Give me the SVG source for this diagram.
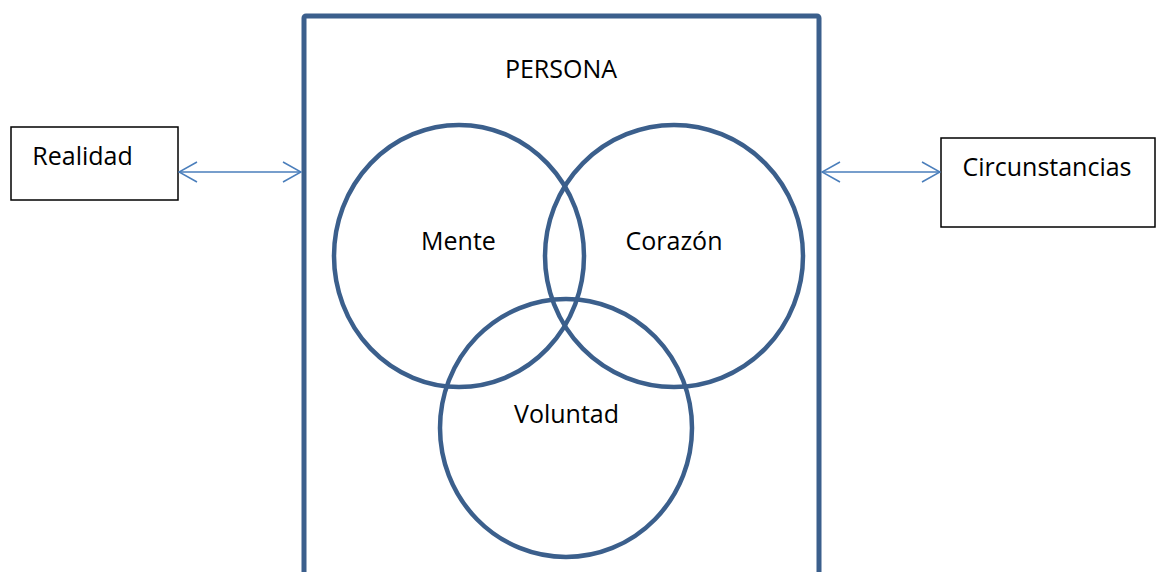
<svg xmlns="http://www.w3.org/2000/svg" width="1157" height="572" viewBox="0 0 1157 572">
  <defs>
    <style>
      .lbl { font-family: "Open Sans", "Liberation Sans", sans-serif; font-size: 25px; fill: #000; text-anchor: middle; }
      .ring { fill: none; stroke: #3b5f8c; stroke-width: 4.5; }
      .side { fill: #fff; stroke: #000; stroke-width: 1.5; }
      .conn { fill: none; stroke: #4a7ebb; stroke-width: 1.5; }
    </style>
    <marker id="chev" viewBox="0 0 20 24" refX="19" refY="12" markerWidth="20" markerHeight="24" markerUnits="userSpaceOnUse" orient="auto-start-reverse">
      <path d="M1,2 L19,12 L1,22" fill="none" stroke="#4a7ebb" stroke-width="1.5"/>
    </marker>
  </defs>
  <rect width="1157" height="572" fill="#fff"/>

  <g id="persona">
    <rect x="304" y="16" width="515" height="620" rx="2" fill="none" stroke="#3b5f8c" stroke-width="5"/>
    <text class="lbl" x="561" y="78">PERSONA</text>
  </g>

  <g id="mente">
    <ellipse class="ring" cx="459" cy="256" rx="125" ry="131"/>
  </g>
  <g id="corazon">
    <ellipse class="ring" cx="674" cy="256" rx="129" ry="131"/>
  </g>
  <g id="voluntad">
    <ellipse class="ring" cx="566" cy="428" rx="126" ry="129"/>
  </g>
  <g id="labels">
    <text class="lbl" x="458.5" y="250">Mente</text>
    <text class="lbl" x="674" y="250">Corazón</text>
    <text class="lbl" x="566.5" y="423">Voluntad</text>
  </g>

  <g id="realidad">
    <rect class="side" x="11" y="127" width="167" height="73"/>
    <text class="lbl" x="82.5" y="165">Realidad</text>
  </g>

  <g id="circunstancias">
    <rect class="side" x="941" y="138" width="214" height="89"/>
    <text class="lbl" x="1047" y="176">Circunstancias</text>
  </g>

  <g id="connectors">
    <line class="conn" x1="179" y1="172" x2="301" y2="172" marker-start="url(#chev)" marker-end="url(#chev)"/>
    <line class="conn" x1="822" y1="172" x2="940" y2="172" marker-start="url(#chev)" marker-end="url(#chev)"/>
  </g>
</svg>
